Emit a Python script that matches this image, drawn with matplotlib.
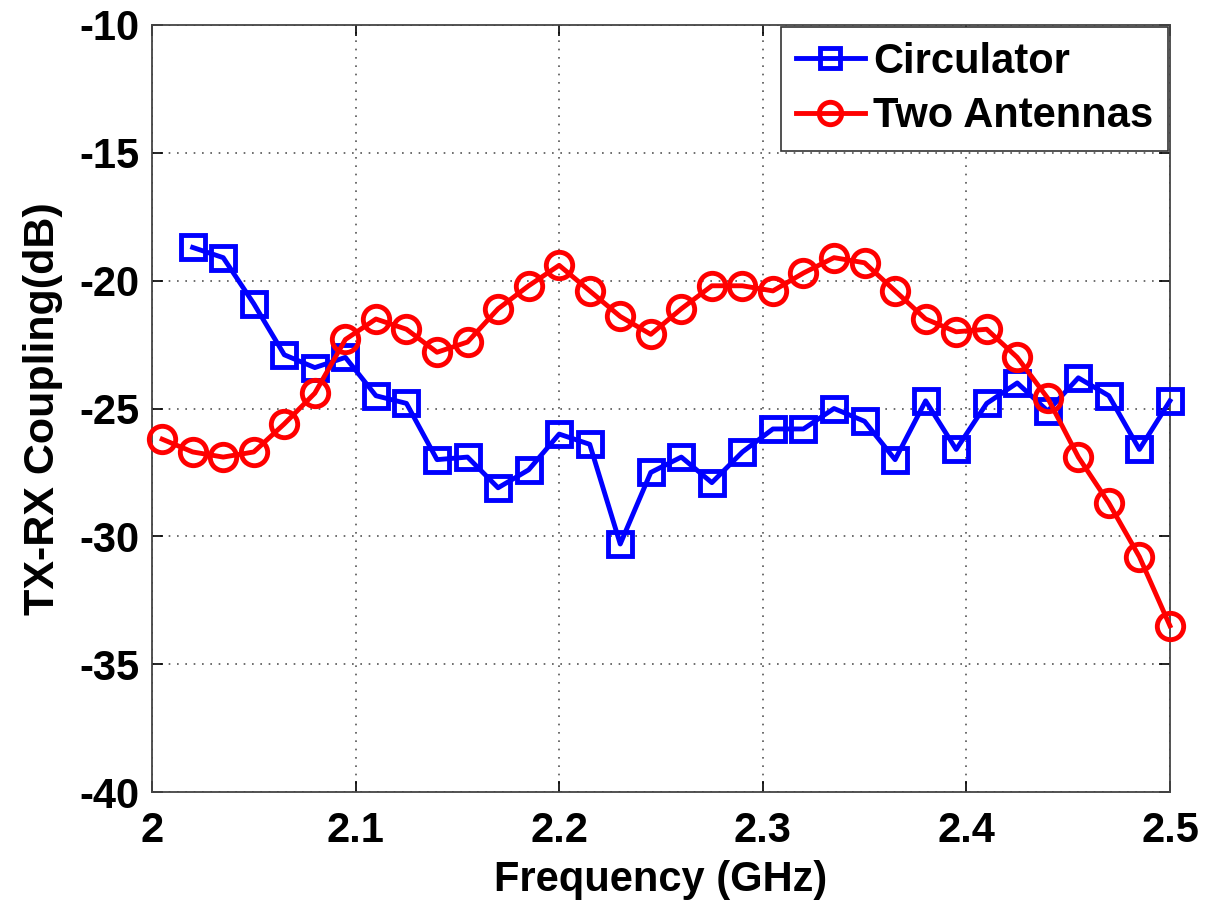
import numpy as np
import matplotlib.pyplot as plt

# frequency grids (GHz)
freq_ant = [2.005, 2.02, 2.035, 2.05, 2.065, 2.08, 2.095, 2.11, 2.125, 2.14,
            2.155, 2.17, 2.185, 2.2, 2.215, 2.23, 2.245, 2.26, 2.275, 2.29,
            2.305, 2.32, 2.335, 2.35, 2.365, 2.38, 2.395, 2.41, 2.425, 2.44,
            2.455, 2.47, 2.485, 2.5]
freq_circ = freq_ant[1:]

# TX-RX coupling (dB)
two_antennas = [-26.2, -26.7, -26.9, -26.7, -25.6, -24.4, -22.3, -21.5, -21.9, -22.8,
                -22.4, -21.1, -20.2, -19.4, -20.4, -21.4, -22.1, -21.1, -20.2, -20.2,
                -20.4, -19.7, -19.1, -19.3, -20.4, -21.5, -22.0, -21.9, -23.0, -24.6,
                -26.9, -28.7, -30.8, -33.5]
circulator = [-18.7, -19.1, -20.9, -22.9, -23.4, -23.0, -24.5, -24.8, -27.0,
              -26.9, -28.1, -27.4, -26.0, -26.4, -30.3, -27.5, -26.9, -27.9, -26.7,
              -25.8, -25.8, -25.0, -25.5, -27.0, -24.7, -26.6, -24.8, -24.0, -25.1,
              -23.8, -24.5, -26.6, -24.7]

plt.rcParams['font.family'] = ['Liberation Sans', 'DejaVu Sans']
plt.rcParams['font.weight'] = 'bold'
plt.rcParams['axes.unicode_minus'] = False

fig = plt.figure(figsize=(12.09, 9.09), dpi=100)
ax = fig.add_axes([0.1257, 0.1287, 0.842, 0.8438])

ax.plot(freq_circ, circulator, color='#0000ff', lw=3.5, marker='s', ms=17,
        mfc='none', mew=3.5, label='Circulator', clip_on=False, zorder=3)
ax.plot(freq_ant, two_antennas, color='#ff0000', lw=3.5, marker='o', ms=19,
        mfc='none', mew=3.5, label='Two Antennas', clip_on=False, zorder=3)

ax.set_xlim(2, 2.5)
ax.set_ylim(-40, -10)
ax.set_xticks(np.arange(2, 2.51, 0.1))
ax.set_xticklabels(['2', '2.1', '2.2', '2.3', '2.4', '2.5'])
ax.set_yticks(np.arange(-40, -9, 5))
ax.tick_params(labelsize=30, direction='in', length=8, width=1.2,
               top=True, right=True)
ax.tick_params(axis='x', pad=14)
ax.tick_params(axis='y', pad=9)
ax.grid(True, ls=(0, (1, 4)), color='#555555', lw=1.2)
for s in ax.spines.values():
    s.set_color('#444444')
    s.set_linewidth(1.3)

ax.set_xlabel('Frequency (GHz)', fontsize=30, fontweight='bold', labelpad=6)
ax.set_ylabel('TX-RX Coupling(dB)', fontsize=31, fontweight='bold', labelpad=12)

leg = ax.legend(loc='upper right', fontsize=30, fancybox=False, framealpha=1,
                edgecolor='#333333', handlelength=1.65, borderpad=0.35,
                labelspacing=0.35, handletextpad=0.2, borderaxespad=0.05,
                markerscale=0.85)
leg.get_frame().set_linewidth(1.2)

fig.savefig('out.png', dpi=100)
